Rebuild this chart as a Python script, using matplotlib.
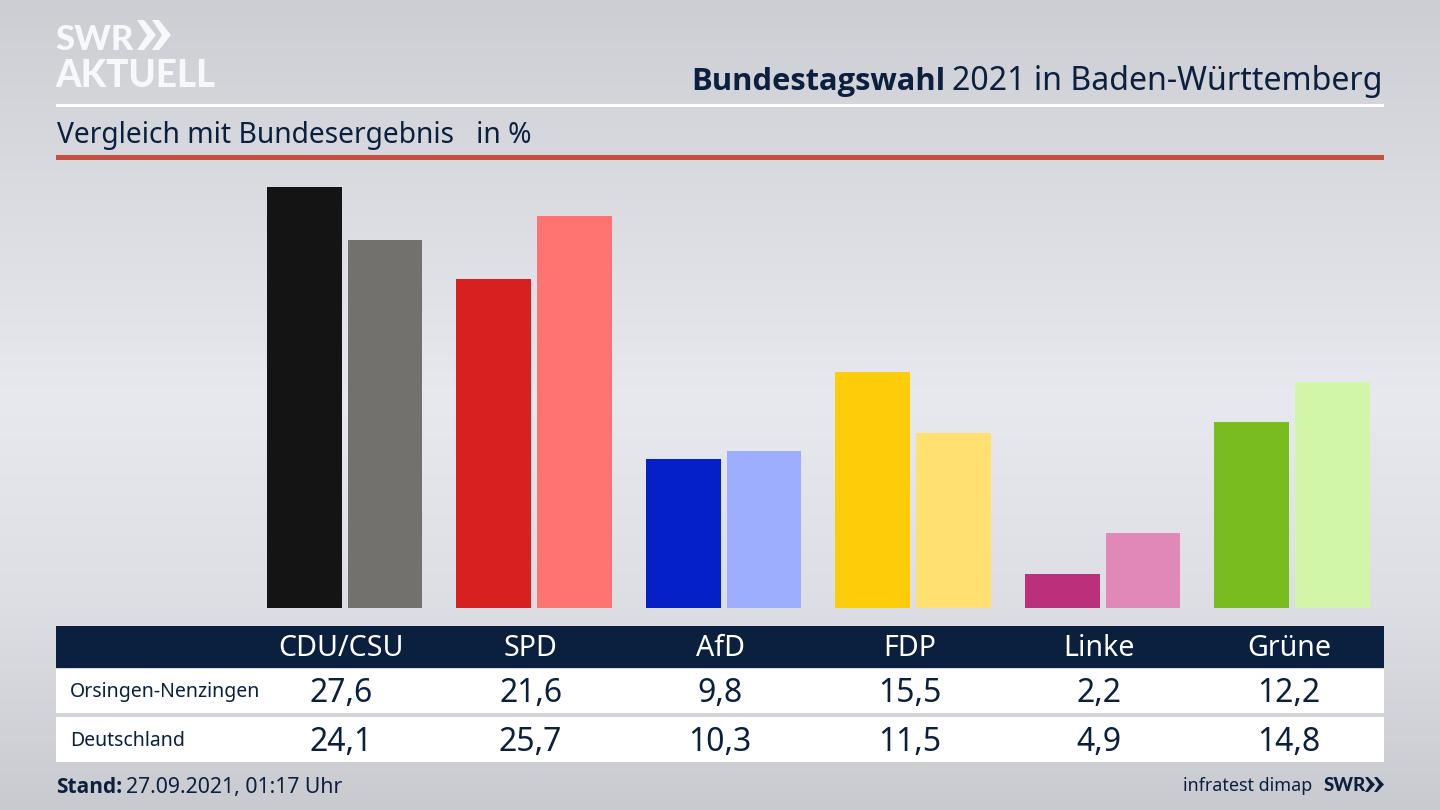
import numpy as np
import matplotlib
matplotlib.use('Agg')
import matplotlib.pyplot as plt
from matplotlib.patches import Rectangle, Polygon

plt.rcParams['font.family'] = ['Noto Sans', 'DejaVu Sans']

# Daten
parteien = ['CDU/CSU', 'SPD', 'AfD', 'FDP', 'Linke', 'Grüne']
orsingen = [27.6, 21.6, 9.8, 15.5, 2.2, 12.2]
deutschland = [24.1, 25.7, 10.3, 11.5, 4.9, 14.8]
farben_ort = ['#141414', '#d7201f', '#0520c8', '#ffcc0a', '#bc2f7a', '#78bc1e']
farben_bund = ['#72716e', '#ff7370', '#9dadff', '#ffe070', '#e088b8', '#d2f6a8']

NAVY = '#0b1f3f'
W, H = 1440, 810

fig = plt.figure(figsize=(14.4, 8.1), dpi=100)

# Hintergrund und Deko in Pixelkoordinaten
bg = fig.add_axes([0, 0, 1, 1])
bg.set_xlim(0, W)
bg.set_ylim(H, 0)
bg.axis('off')

stops_y = [0, 200, 400, 600, 810]
stops_c = [0.80, 0.855, 0.905, 0.865, 0.785]
verlauf = np.interp(np.arange(H), stops_y, stops_c)
rgb = np.stack([verlauf, verlauf + 0.008, verlauf + 0.03], axis=1).clip(0, 1)
bg.imshow(rgb[:, None, :], extent=[0, W, H, 0], aspect='auto', zorder=0)

# Linien oben
bg.add_patch(Rectangle((56, 104), 1328, 3, color='white', lw=0, zorder=1))
bg.add_patch(Rectangle((56, 155), 1328, 5, color='#c9503f', lw=0, zorder=1))

# Logo
bg.text(55, 50, 'SWR', color='#f7f8f9', fontsize=25, fontweight='black', va='baseline', family='Lato')
for x0 in (137, 152):
    bg.add_patch(Polygon([(x0, 20), (x0 + 7, 20), (x0 + 19, 35), (x0 + 7, 50), (x0, 50), (x0 + 10, 35)],
                         closed=True, color='#f7f8f9', lw=0, zorder=2))
bg.text(55, 87, 'AKTUELL', color='#f7f8f9', fontsize=26.5, fontweight='black', va='baseline', family='Lato')

# Titel
bg.text(1383, 90, '2021 in Baden-Württemberg', color=NAVY, fontsize=23.1, ha='right', va='baseline')
bg.text(945, 90, 'Bundestagswahl', color=NAVY, fontsize=22.2, fontweight='bold', ha='right', va='baseline',
        family='Open Sans')
bg.text(57, 143, 'Vergleich mit Bundesergebnis   in %', color=NAVY, fontsize=20.3, va='baseline')

# Tabelle
bg.add_patch(Rectangle((56, 626), 1328, 42, color=NAVY, lw=0, zorder=1))
bg.add_patch(Rectangle((56, 669), 1328, 44, color='white', lw=0, zorder=1))
bg.add_patch(Rectangle((56, 717), 1328, 45, color='white', lw=0, zorder=1))

for i, partei in enumerate(parteien):
    x = 341 + 189.6 * i
    bg.text(x, 656, partei, color='white', fontsize=20.6, ha='center', va='baseline')
    bg.text(x, 702, f'{orsingen[i]:.1f}'.replace('.', ','), color=NAVY, fontsize=23, ha='center', va='baseline')
    bg.text(x, 751, f'{deutschland[i]:.1f}'.replace('.', ','), color=NAVY, fontsize=23, ha='center', va='baseline')

bg.text(70, 697, 'Orsingen-Nenzingen', color=NAVY, fontsize=14, va='baseline')
bg.text(70, 746, 'Deutschland', color=NAVY, fontsize=14, va='baseline')

# Fusszeile
bg.text(56, 793, 'Stand:', color=NAVY, fontsize=15, fontweight='bold', va='baseline', family='Open Sans')
bg.text(126, 793, '27.09.2021, 01:17 Uhr', color=NAVY, fontsize=15.3, va='baseline')
bg.text(1312, 791, 'infratest dimap', color=NAVY, fontsize=12.9, ha='right', va='baseline')
bg.text(1324, 791, 'SWR', color=NAVY, fontsize=13.5, fontweight='black', va='baseline', family='Lato')
for x0 in (1365, 1374):
    bg.add_patch(Polygon([(x0, 777), (x0 + 3, 777), (x0 + 10, 784.5), (x0 + 3, 792), (x0, 792), (x0 + 5, 784.5)],
                         closed=True, color=NAVY, lw=0, zorder=2))

# Balken: 189.5 px pro Partei, 15.25 px pro Prozentpunkt
px_x = 189.5
px_y = 15.25
ax = fig.add_axes([56 / W, 1 - 608 / H, 1328 / W, 438 / H])
ax.patch.set_alpha(0)
ax.axis('off')
ax.set_xlim((56 - 344.5) / px_x, (1384 - 344.5) / px_x)
ax.set_ylim(0, 438 / px_y)

pos = np.arange(len(parteien))
breite = 74.6 / px_x
versatz = 40.3 / px_x
ax.bar(pos - versatz, orsingen, breite, color=farben_ort)
ax.bar(pos + versatz, deutschland, breite, color=farben_bund)

plt.savefig('out.png', dpi=100)
